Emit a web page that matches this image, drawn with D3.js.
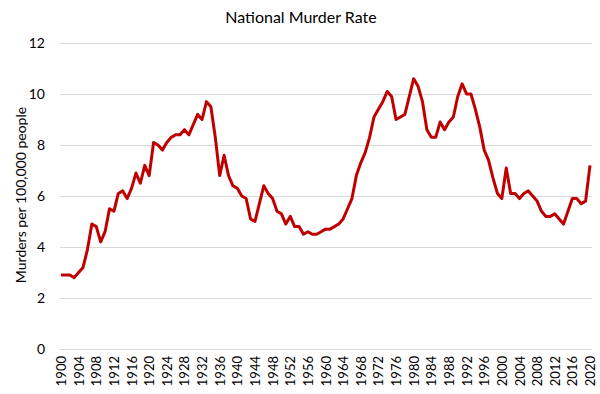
<!DOCTYPE html>
<html>
<head>
<meta charset="utf-8">
<script src="https://cdn.jsdelivr.net/npm/d3@7"></script>
<style>
  body { margin: 0; background: #fff; }
  svg text { font-family: "Lato", "Open Sans", sans-serif; fill: #000; }
</style>
</head>
<body>
<div id="wrapper"></div>
<script>
// years 1900..2020, rate per 100k
const firstYear = 1900;
const rates = [
  2.9, 2.9, 2.9, 2.8, 3.0, 3.2, 3.9, 4.9, 4.8, 4.2,   // 1900s
  4.6, 5.5, 5.4, 6.1, 6.2, 5.9, 6.3, 6.9, 6.5, 7.2,   // 1910s
  6.8, 8.1, 8.0, 7.8, 8.1, 8.3, 8.4, 8.4, 8.6, 8.4,   // 1920s
  8.8, 9.2, 9.0, 9.7, 9.5, 8.3, 6.8, 7.6, 6.8, 6.4,   // 1930s
  6.3, 6.0, 5.9, 5.1, 5.0, 5.7, 6.4, 6.1, 5.9, 5.4,   // 1940s
  5.3, 4.9, 5.2, 4.8, 4.8, 4.5, 4.6, 4.5, 4.5, 4.6,   // 1950s
  4.7, 4.7, 4.8, 4.9, 5.1, 5.5, 5.9, 6.8, 7.3, 7.7,   // 1960s
  8.3, 9.1, 9.4, 9.7, 10.1, 9.9, 9.0, 9.1, 9.2, 9.9,  // 1970s
  10.6, 10.3, 9.7, 8.6, 8.3, 8.3, 8.9, 8.6, 8.9, 9.1, // 1980s
  9.9, 10.4, 10.0, 10.0, 9.4, 8.7, 7.8, 7.4, 6.7, 6.1,// 1990s
  5.9, 7.1, 6.1, 6.1, 5.9, 6.1, 6.2, 6.0, 5.8, 5.4,   // 2000s
  5.2, 5.2, 5.3, 5.1, 4.9, 5.4, 5.9, 5.9, 5.7, 5.8,   // 2010s
  7.2                                                 // 2020
];
const years = rates.map((d, i) => firstYear + i);
const xTicks = d3.range(1900, 2021, 4);
const yTicks = [0, 2, 4, 6, 8, 10, 12];

const title = "National Murder Rate";
const yLabel = "Murders per 100,000 people";

const width = 600, height = 394;

const svg = d3.select("#wrapper")
  .append("svg")
  .attr("width", width)
  .attr("height", height);

const x = d3.scaleLinear().domain([1900, 2020]).range([61, 590]);
const y = d3.scaleLinear().domain([0, 12]).range([349, 43]);

// gridlines + y labels
const yAxis = svg.append("g")
  .attr("transform", "translate(60,0)")
  .call(d3.axisLeft(y).tickValues(yTicks).tickSize(-532).tickPadding(15));
yAxis.select(".domain").remove();
yAxis.selectAll("line").attr("stroke", "#d9d9d9").attr("stroke-width", 1);
yAxis.selectAll("text").attr("font-size", 14);

// x labels, rotated
const xAxis = svg.append("g")
  .attr("transform", "translate(0,349)")
  .call(d3.axisBottom(x).tickValues(xTicks).tickSize(0).tickFormat(d3.format("d")));
xAxis.select(".domain").remove();
xAxis.selectAll("text")
  .attr("font-size", 13)
  .attr("text-anchor", "end")
  .attr("transform", "translate(0,7) rotate(-90)")
  .attr("x", 0)
  .attr("y", 0)
  .attr("dy", "0.35em");

// line
const line = d3.line()
  .x((d, i) => x(years[i]))
  .y(d => y(d));

svg.append("path")
  .datum(rates)
  .attr("d", line)
  .attr("fill", "none")
  .attr("stroke", "#c00000")
  .attr("stroke-width", 3)
  .attr("stroke-linejoin", "round");

// title
svg.append("text")
  .attr("x", 301)
  .attr("y", 23)
  .attr("text-anchor", "middle")
  .attr("font-size", 16)
  .text(title);

// y axis title
svg.append("text")
  .attr("transform", "translate(26,195) rotate(-90)")
  .attr("text-anchor", "middle")
  .attr("font-size", 14)
  .text(yLabel);
</script>
</body>
</html>
